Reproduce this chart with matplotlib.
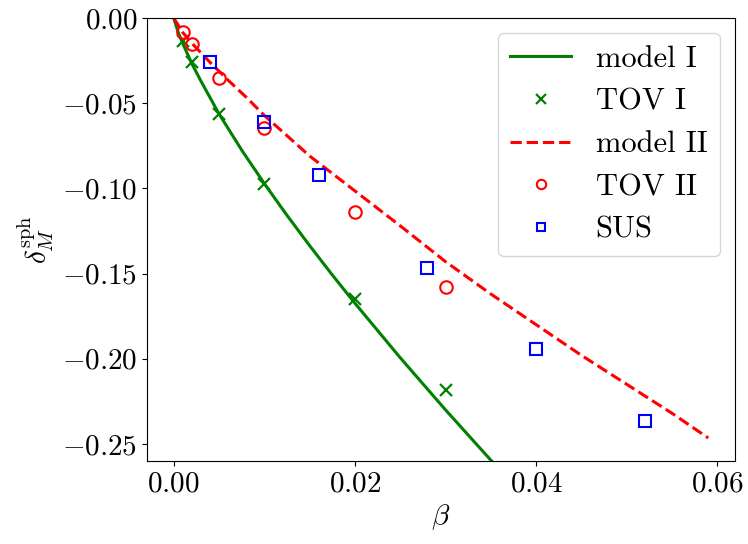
import numpy as np
import matplotlib
matplotlib.use('Agg')
import matplotlib.pyplot as plt

plt.rcParams['font.family'] = 'serif'
plt.rcParams['font.serif'] = ['cmr10', 'DejaVu Serif']
plt.rcParams['mathtext.fontset'] = 'cm'
plt.rcParams['axes.formatter.use_mathtext'] = True
plt.rcParams['font.size'] = 21

# model curves
model1_beta = [0, 0.0005, 0.001, 0.002, 0.003, 0.005, 0.0075, 0.01, 0.0125,
               0.015, 0.0175, 0.02, 0.025, 0.03, 0.035, 0.04]
model1_delta = [0, -0.0085, -0.0150, -0.0268, -0.0370, -0.0563, -0.0775, -0.0972,
                -0.1158, -0.1336, -0.1508, -0.1674, -0.1994, -0.2300, -0.2595, -0.2880]

model2_beta = [0, 0.001, 0.002, 0.004, 0.006, 0.008, 0.01, 0.015, 0.02, 0.025,
               0.03, 0.035, 0.04, 0.045, 0.05, 0.055, 0.059]
model2_delta = [0, -0.0085, -0.0148, -0.0260, -0.0365, -0.0465, -0.0572, -0.0810,
                -0.1015, -0.1220, -0.1430, -0.1620, -0.1800, -0.1980, -0.2150,
                -0.2320, -0.2465]

# TOV runs
tov_beta = [0.001, 0.002, 0.005, 0.01, 0.02, 0.03]
tov1_delta = [-0.0137, -0.0260, -0.0563, -0.0972, -0.1650, -0.2186]
tov2_delta = [-0.0084, -0.0153, -0.0352, -0.0645, -0.1140, -0.1578]

# SUS runs
sus_beta = [0.004, 0.01, 0.016, 0.028, 0.04, 0.052]
sus_delta = [-0.0258, -0.0610, -0.0919, -0.1466, -0.1942, -0.2366]

fig = plt.figure(figsize=(7.48, 5.44), dpi=100)
ax = fig.add_axes([0.1965, 0.1526, 0.7861, 0.8144])

ax.plot(model1_beta, model1_delta, '-', color='green', lw=2.2, label='model I')
ax.plot(tov_beta, tov1_delta, 'x', color='green', ms=9, mew=1.6, label='TOV I')
ax.plot(model2_beta, model2_delta, '--', color='red', lw=2.2, label='model II')
ax.plot(tov_beta, tov2_delta, 'o', color='red', mfc='none', ms=9, mew=1.5,
        label='TOV II')
ax.plot(sus_beta, sus_delta, 's', color='blue', mfc='none', ms=8, mew=1.5,
        label='SUS')

ax.set_xlim(-0.00295, 0.06195)
ax.set_ylim(-0.26, 0)
ax.set_xticks([0, 0.02, 0.04, 0.06])
ax.set_yticks([0, -0.05, -0.10, -0.15, -0.20, -0.25])
ax.xaxis.set_major_formatter(matplotlib.ticker.FormatStrFormatter('$%.2f$'))
ax.yaxis.set_major_formatter(matplotlib.ticker.FuncFormatter(
    lambda v, p: '$%.2f$' % v if v >= 0 else r'$-%.2f$' % abs(v)))

ax.set_xlabel(r'$\beta$')
ax.set_ylabel(r'$\delta_M^{\rm sph}$')
ax.legend(loc='upper right', markerscale=0.75, fontsize=22)

fig.savefig('out.png', dpi=100)
